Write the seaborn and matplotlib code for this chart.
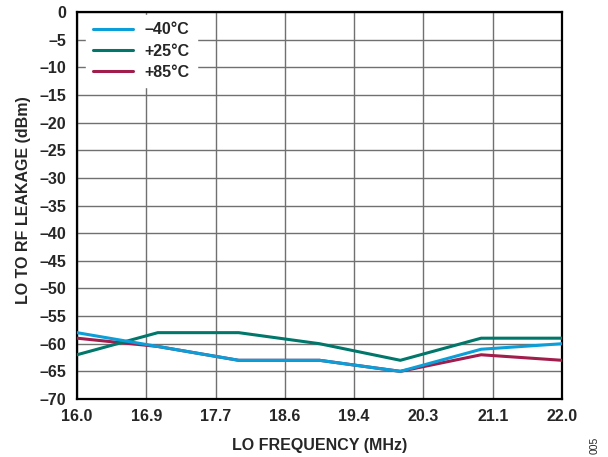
import numpy as np
import pandas as pd
import seaborn as sns
import matplotlib.pyplot as plt

# LO-to-RF leakage vs LO frequency, three temperatures
freq_mhz = [16, 17, 18, 19, 20, 21, 22]
leak_m40 = [-58, -60.5, -63, -63, -65, -61, -60]
leak_p25 = [-62, -58, -58, -60, -63, -59, -59]
leak_p85 = [-59, -60.5, -63, -63, -65, -62, -63]

temps = ['\u201340°C', '+25°C', '+85°C']
colors = ['#0a9fd8', '#00776b', '#a11d4b']

xtick_vals = np.linspace(16, 22, 8)
xtick_labels = ['16.0', '16.9', '17.7', '18.6', '19.4', '20.3', '21.1', '22.0']
ytick_vals = list(range(0, -75, -5))
ytick_labels = [str(v).replace('-', '\u2013') for v in ytick_vals]

df = pd.DataFrame({
    'freq': freq_mhz * 3,
    'leak': leak_m40 + leak_p25 + leak_p85,
    'temp': [temps[0]] * 7 + [temps[1]] * 7 + [temps[2]] * 7,
})

sns.set_style('white')
plt.rcParams['font.family'] = ['Liberation Sans', 'DejaVu Sans']
plt.rcParams['font.weight'] = 'bold'

fig = plt.figure(figsize=(6.08, 4.57), dpi=100)
ax = fig.add_axes([77 / 608, 1 - 399 / 457, (562 - 77) / 608, (399 - 12) / 457])

# draw red first, then green, blue on top
for t, c, z in zip(temps, colors, [4, 3, 2]):
    sns.lineplot(data=df[df['temp'] == t], x='freq', y='leak', color=c,
                 linewidth=2.2, ax=ax, zorder=z + 2, label=t)

ax.set_xlim(16, 22)
ax.set_ylim(-70, 0)
ax.set_xticks(xtick_vals)
ax.set_xticklabels(xtick_labels)
ax.set_yticks(ytick_vals)
ax.set_yticklabels(ytick_labels)
ax.tick_params(axis='x', length=0, labelsize=11.5, pad=7.5)
ax.tick_params(axis='y', length=0, labelsize=11.5, pad=7.5)
for lab in ax.get_xticklabels() + ax.get_yticklabels():
    lab.set_fontweight('bold')

ax.grid(True, color='#707070', linewidth=1.0)
for s in ax.spines.values():
    s.set_color('black')
    s.set_linewidth(1.6)

ax.set_xlabel('LO FREQUENCY (MHz)', fontsize=11.5, fontweight='bold', labelpad=10)
ax.set_ylabel('LO TO RF LEAKAGE (dBm)', fontsize=11.5, fontweight='bold')
ax.yaxis.set_label_coords(-0.094, 0.515)

# legend order: -40, +25, +85
handles, labels = ax.get_legend_handles_labels()
order = [labels.index(t) for t in temps]
leg = ax.legend([handles[i] for i in order], [labels[i] for i in order],
                loc='upper left', bbox_to_anchor=(86 / 608, 1 - 15 / 457),
                bbox_transform=fig.transFigure, frameon=True,
                fancybox=False, framealpha=1, edgecolor='white',
                handlelength=2.5, handletextpad=0.7, labelspacing=0.4,
                prop={'weight': 'bold', 'size': 11.5}, borderaxespad=0,
                borderpad=0.45)
leg.set_zorder(10)

fig.text(595 / 608, 1 - 445 / 457, '005', rotation=90, fontsize=7.5,
         fontweight='normal', ha='center', va='center')

fig.savefig('out.png', dpi=100)
